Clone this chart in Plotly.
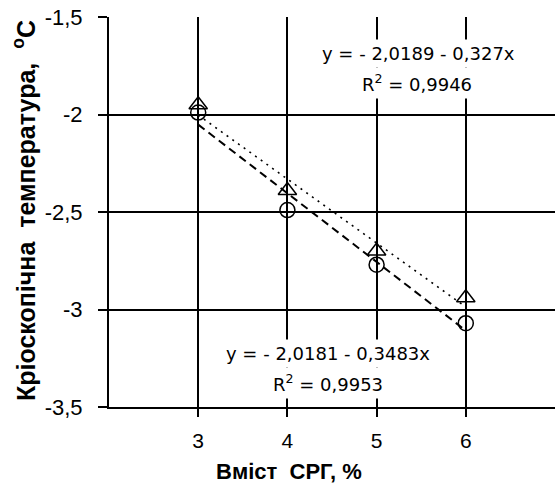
import numpy as np
import plotly.graph_objects as go

# ---- data ----
content = [3, 4, 5, 6]                      # Вміст СРГ, %
temp_triangle = [-1.95, -2.39, -2.70, -2.94]  # series with dotted trend
temp_circle = [-1.99, -2.49, -2.77, -3.07]    # series with dashed trend

y_tickvals = [-3.5, -3.0, -2.5, -2.0, -1.5]
y_ticktext = ["-3,5", "-3", "-2,5", "-2", "-1,5"]
x_tickvals = [3, 4, 5, 6]
x_ticktext = ["3", "4", "5", "6"]

eq_top = "y = - 2,0189 - 0,327x"
r2_top = "R<sup>2</sup> = 0,9946"
eq_bot = "y = - 2,0181 - 0,3483x"
r2_bot = "R<sup>2</sup> = 0,9953"

FONT = "Liberation Sans, Arial, sans-serif"
EQFONT = "DejaVu Sans, sans-serif"

xs = np.array(content, dtype=float)
fit_t = np.polyfit(xs, temp_triangle, 1)
fit_c = np.polyfit(xs, temp_circle, 1)
xl = np.array([content[0], content[-1]], dtype=float)

fig = go.Figure()
fig.add_trace(go.Scatter(x=xl, y=np.polyval(fit_t, xl), mode="lines",
                         line=dict(color="black", width=1.6, dash="2px,5px"),
                         showlegend=False, hoverinfo="skip"))
fig.add_trace(go.Scatter(x=xl, y=np.polyval(fit_c, xl), mode="lines",
                         line=dict(color="black", width=2, dash="8px,5px"),
                         showlegend=False, hoverinfo="skip"))
fig.add_trace(go.Scatter(x=content, y=temp_triangle, mode="markers",
                         marker=dict(symbol="triangle-up-open", size=16,
                                     color="black", line=dict(width=1.5, color="black")),
                         showlegend=False))
fig.add_trace(go.Scatter(x=content, y=temp_circle, mode="markers",
                         marker=dict(symbol="circle-open", size=15,
                                     color="black", line=dict(width=1.5, color="black")),
                         showlegend=False))

W, H = 555, 484
L, R, T, B = 109, 0, 17, 77
pw, ph = W - L - R, H - T - B


def px(xp):
    return (xp - L) / pw


def py(yp):
    return (H - B - yp) / ph


def ann(x, y, text, size=18, family=FONT, bold=False, angle=0, bg=None):
    return dict(x=px(x), y=py(y), xref="paper", yref="paper", text=text, showarrow=False,
                font=dict(family=family, size=size, color="black",
                          weight="bold" if bold else "normal"),
                textangle=angle, xanchor="center", yanchor="middle",
                bgcolor=bg, borderpad=3)


annotations = [
    ann(418, 53, eq_top, family=EQFONT, bg="white"),
    ann(417, 83, r2_top, family=EQFONT, bg="white"),
    ann(328, 353, eq_bot, family=EQFONT, bg="white"),
    ann(328, 383, r2_bot, family=EQFONT, bg="white"),
    ann(289, 471, "Вміст\u00a0 СРГ, %", size=22, bold=True),
    ann(24, 211, "Кріоскопічна\u00a0 температура,\u00a0 <sup>o</sup>C",
        size=25, bold=True, angle=-90),
]

fig.update_layout(
    width=W, height=H,
    margin=dict(l=L, r=R, t=T, b=B, pad=0),
    paper_bgcolor="white", plot_bgcolor="white",
    font=dict(family=FONT, size=20, color="black"),
    annotations=annotations,
    xaxis=dict(range=[2, 7], tickvals=x_tickvals, ticktext=x_ticktext,
               showgrid=True, gridcolor="black", gridwidth=1.5,
               showline=True, linecolor="black", linewidth=2,
               ticks="outside", ticklen=8, tickwidth=2, tickcolor="black",
               ticklabelstandoff=6, zeroline=False,
               tickfont=dict(family=FONT, size=21)),
    yaxis=dict(range=[-3.5, -1.5], tickvals=y_tickvals, ticktext=y_ticktext,
               showgrid=True, gridcolor="black", gridwidth=1.5,
               showline=True, linecolor="black", linewidth=2,
               ticks="outside", ticklen=9, tickwidth=2, tickcolor="black",
               ticklabelstandoff=11, zeroline=False,
               tickfont=dict(family=FONT, size=22)),
)

fig.write_html("out.html", config={"displayModeBar": False},
               post_script="document.body.style.margin='0';")
